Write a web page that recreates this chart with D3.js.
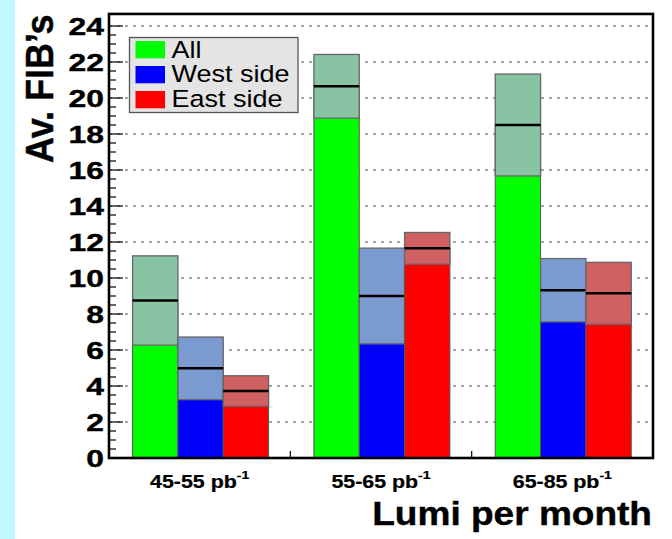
<!DOCTYPE html>
<html>
<head>
<meta charset="utf-8">
<script src="https://cdn.jsdelivr.net/npm/d3@7"></script>
<style>
  html, body { margin: 0; padding: 0; background: #fff; }
  svg { display: block; }
  text { font-family: "Liberation Sans", Arial, Helvetica, sans-serif; }
</style>
</head>
<body>
<svg id="chart" width="672" height="539"></svg>
<script>
// Luminosity bins
const categories = ["45-55", "55-65", "65-85"];
// Series: average FIB count per month, with its uncertainty
const seriesNames = ["All", "West side", "East side"];
const allMean  = [8.75, 20.65, 18.5];
const allErr   = [2.48, 1.77, 2.83];
const westMean = [4.98, 9.0, 9.32];
const westErr  = [1.74, 2.66, 1.76];
const eastMean = [3.72, 11.65, 9.15];
const eastErr  = [0.85, 0.88, 1.72];
const yTicks = [0, 2, 4, 6, 8, 10, 12, 14, 16, 18, 20, 22, 24];

const barColors  = ["#00ff00", "#0000ff", "#ff0000"];
const bandColors = ["#88c4a4", "#7b9ad0", "#d06062"];

const means = [allMean, westMean, eastMean];
const errs  = [allErr, westErr, eastErr];

const svg = d3.select("#chart");

// left side strip
svg.append("rect").attr("x", 0).attr("y", 0).attr("width", 15).attr("height", 539)
  .attr("fill", "#c0f8ff");

const plotLeft = 109, plotRight = 653, plotBottom = 458;
const y = d3.scaleLinear().domain([0, 24]).range([plotBottom, 26]);
const plotTop = y(24.67);
const x = d3.scaleBand().domain(categories).range([plotLeft, plotRight]).paddingInner(0).paddingOuter(0);
const bw = x.bandwidth();
const barOffset = 0.13, barW = 0.25;

// dotted grid
svg.append("g").selectAll("line").data(yTicks.filter(d => d > 0)).join("line")
  .attr("x1", plotLeft).attr("x2", plotRight)
  .attr("y1", d => y(d)).attr("y2", d => y(d))
  .attr("stroke", "#8c8c8c").attr("stroke-width", 1.3)
  .attr("stroke-dasharray", "3,5");

// bars: solid value bar, uncertainty box, mean line
const bars = svg.append("g");
categories.forEach((c, i) => {
  seriesNames.forEach((s, k) => {
    const x0 = x(c) + bw * (barOffset + barW * k);
    const w = bw * barW;
    const m = means[k][i], e = errs[k][i];
    bars.append("rect")
      .attr("x", x0).attr("y", y(m)).attr("width", w).attr("height", y(0) - y(m))
      .attr("fill", barColors[k]).attr("stroke", "#555").attr("stroke-width", 1);
    bars.append("rect")
      .attr("x", x0).attr("y", y(m + e)).attr("width", w).attr("height", y(m - e) - y(m + e))
      .attr("fill", bandColors[k]).attr("stroke", "#666").attr("stroke-width", 1.3);
    bars.append("line")
      .attr("x1", x0).attr("x2", x0 + w).attr("y1", y(m)).attr("y2", y(m))
      .attr("stroke", "#000").attr("stroke-width", 2.5);
  });
});

// frame
svg.append("rect").attr("x", plotLeft).attr("y", plotTop)
  .attr("width", plotRight - plotLeft).attr("height", plotBottom - plotTop)
  .attr("fill", "none").attr("stroke", "#000").attr("stroke-width", 2.6);

// y axis ticks (major + minor, drawn inward)
const minor = d3.range(0, 24.01, 0.5);
svg.append("g").selectAll("line").data(minor).join("line")
  .attr("x1", plotLeft).attr("x2", d => plotLeft + (d % 2 === 0 ? 14 : 7))
  .attr("y1", d => y(d)).attr("y2", d => y(d))
  .attr("stroke", "#000").attr("stroke-width", 1.2);

svg.append("g").selectAll("text").data(yTicks).join("text")
  .attr("transform", d => `translate(104,${y(d) + 8.7}) scale(1.3,1)`)
  .attr("text-anchor", "end").attr("font-weight", "bold").attr("font-size", 24.5)
  .attr("stroke", "#000").attr("stroke-width", 0.4)
  .text(d => d);

// x axis ticks between bins
svg.append("g").selectAll("line").data(categories.slice(1)).join("line")
  .attr("x1", d => x(d)).attr("x2", d => x(d))
  .attr("y1", plotBottom).attr("y2", plotBottom - 7)
  .attr("stroke", "#000").attr("stroke-width", 1.2);

// x labels
const xl = svg.append("g").selectAll("g").data(categories).join("g")
  .attr("transform", d => `translate(${x(d) + bw / 2},487.5) scale(1.22,1)`);
const xt = xl.append("text").attr("text-anchor", "middle").attr("font-weight", "bold").attr("font-size", 17.5)
  .attr("stroke", "#000").attr("stroke-width", 0.25);
xt.append("tspan").text(d => d + " pb");
xt.append("tspan").attr("dy", -8.5).attr("font-size", 11.5).text("-1");

// axis titles
svg.append("text")
  .attr("transform", "translate(652,525) scale(1.14,1)")
  .attr("text-anchor", "end").attr("font-weight", "bold").attr("font-size", 32.5)
  .attr("stroke", "#000").attr("stroke-width", 0.4)
  .text("Lumi per month");

svg.append("text")
  .attr("transform", "translate(53,163) scale(1.09,1) rotate(-90)")
  .attr("text-anchor", "start").attr("font-weight", "bold").attr("font-size", 36)
  .attr("stroke", "#000").attr("stroke-width", 0.4)
  .text("Av. FIB\u2019s");

// legend
const lg = svg.append("g");
lg.append("rect").attr("x", 129.5).attr("y", 37.5).attr("width", 168.5).attr("height", 75)
  .attr("fill", "#e4e4e4").attr("stroke", "#555").attr("stroke-width", 1.3);
seriesNames.forEach((s, k) => {
  lg.append("rect").attr("x", 135.5).attr("y", 41 + k * 25).attr("width", 29.5).attr("height", 17.3)
    .attr("fill", barColors[k]);
  lg.append("text")
    .attr("transform", `translate(171.5,${57.5 + k * 24.5}) scale(1.15,1)`)
    .attr("font-size", 23.5).text(s);
});
</script>
</body>
</html>
